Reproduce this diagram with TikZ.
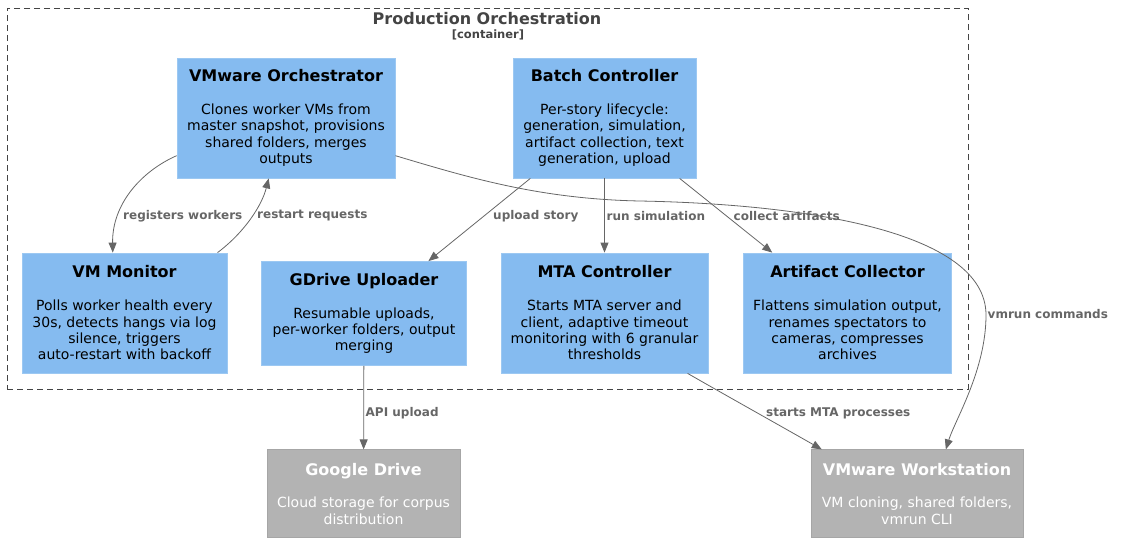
\documentclass[tikz,border=0pt]{standalone}
\usepackage{fontspec}
\setmainfont{DejaVu Sans}
\usetikzlibrary{arrows.meta,calc}
\definecolor{compblue}{HTML}{85BBF0}
\definecolor{compedge}{HTML}{9CC8F2}
\definecolor{extgray}{HTML}{B3B3B3}
\definecolor{extedge}{HTML}{A6A6A6}
\definecolor{linegray}{HTML}{666666}
\definecolor{contgray}{HTML}{444444}
\tikzset{
  comp/.style={draw=compedge, fill=compblue, line width=0.8pt, align=center, inner sep=0pt,
    font=\fontsize{14}{16.4}\selectfont, text=black},
  ext/.style={draw=extedge, fill=extgray, line width=0.8pt, align=center, inner sep=0pt,
    font=\fontsize{14}{16.4}\selectfont, text=white},
  arr/.style={draw=linegray, line width=0.8pt, -{Triangle[length=10pt,width=8pt]}},
  lbl/.style={font=\bfseries\fontsize{12}{14}\selectfont, text=linegray, inner sep=0pt, anchor=west},
  cont/.style={draw=contgray, line width=0.8pt, dash pattern=on 6pt off 4pt},
}
\newcommand{\ttl}[1]{{\bfseries\fontsize{16}{16.4}\selectfont #1}\\[16.4pt]}
\begin{document}
\begin{tikzpicture}[x=1pt,y=-1pt]
\useasboundingbox (0,0) rectangle (1124,550);
% container
\node[cont, minimum width=961pt, minimum height=381pt, inner sep=0pt] (cont) at (487.5,198.5) {};
\node[font=\bfseries\fontsize{16}{18}\selectfont, text=contgray, inner sep=0pt] (ctitle) at (487,18.5) {Production Orchestration};
\node[font=\bfseries\fontsize{11.5}{13}\selectfont, text=contgray, inner sep=0pt] (ctype) at (488,34.5) {[container]};
% components
\node[comp, minimum width=218pt, minimum height=120pt] (orch) at (286,118)
  {\ttl{VMware Orchestrator}Clones worker VMs from\\master snapshot, provisions\\shared folders, merges\\outputs};
\node[comp, minimum width=183pt, minimum height=120pt] (batch) at (604.5,118)
  {\ttl{Batch Controller}Per-story lifecycle:\\generation, simulation,\\artifact collection, text\\generation, upload};
\node[comp, minimum width=205pt, minimum height=120pt] (mon) at (124.5,313)
  {\ttl{VM Monitor}Polls worker health every\\30s, detects hangs via log\\silence, triggers\\auto-restart with backoff};
\node[comp, minimum width=205pt, minimum height=104pt] (gd) at (364,313.5)
  {\ttl{GDrive Uploader}Resumable uploads,\\per-worker folders, output\\merging};
\node[comp, minimum width=207pt, minimum height=120pt] (mta) at (604.5,313)
  {\ttl{MTA Controller}Starts MTA server and\\client, adaptive timeout\\monitoring with 6 granular\\thresholds};
\node[comp, minimum width=208pt, minimum height=120pt] (art) at (847.5,313)
  {\ttl{Artifact Collector}Flattens simulation output,\\renames spectators to\\cameras, compresses\\archives};
% external systems
\node[ext, minimum width=193pt, minimum height=88pt] (gdrive) at (363.5,493.8)
  {\ttl{Google Drive}Cloud storage for corpus\\distribution};
\node[ext, minimum width=212pt, minimum height=88pt] (wst) at (917,493.8)
  {\ttl{VMware Workstation}VM cloning, shared folders,\\vmrun CLI};
% waypoints
\coordinate (w1) at (640,201);
\coordinate (w2) at (986,315);
% connectors
\draw[arr] (orch.199) .. controls (140,172) and (112,205) .. (mon.101);
\draw[arr] (mon.33) .. controls (245,232) and (262,205) .. (orch.254);
\draw[arr] (batch) -- (gd);
\draw[arr] (batch) -- (mta);
\draw[arr] (batch) -- (art);
\draw[arr] (gd) -- (gdrive);
\draw[arr] (mta.-36) .. controls (720,392) and (770,420) .. (wst.155);
\draw[arr] (orch.-19) .. controls (470,178) and (540,199) .. (w1)
  .. controls (800,204) and (986,230) .. (w2)
  .. controls (986,370) and (955,420) .. (wst.57);
% labels
\node[lbl] (l1) at (123,216) {registers workers};
\node[lbl] (l2) at (257,216) {restart requests};
\node[lbl] (l3) at (493,216) {upload story};
\node[lbl] (l4) at (606.5,216) {run simulation};
\node[lbl] (l5) at (733.5,216) {collect artifacts};
\node[lbl] (l6) at (987.5,314) {vmrun commands};
\node[lbl] (l7) at (365.5,413) {API upload};
\node[lbl] (l8) at (766,413) {starts MTA processes};
\end{tikzpicture}
\end{document}
